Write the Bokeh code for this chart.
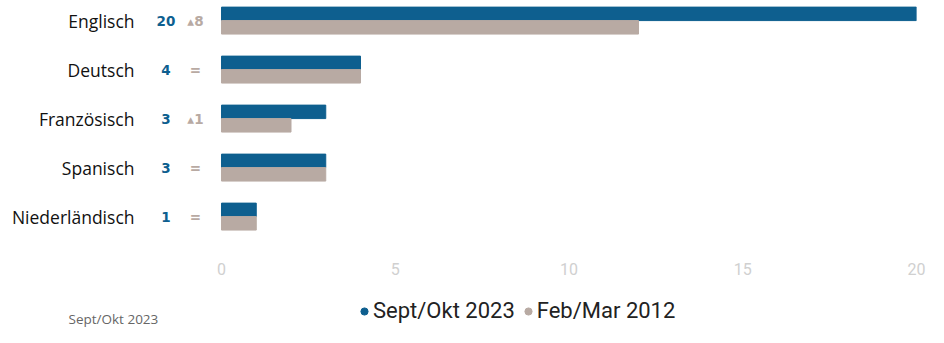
from bokeh.plotting import figure
from bokeh.layouts import column
from bokeh.models import Range1d, FixedTicker, Legend, LegendItem, Label, ColumnDataSource
from bokeh.core.properties import value
from bokeh.embed import file_html
from bokeh.resources import INLINE

languages = ["Englisch", "Deutsch", "Französisch", "Spanisch", "Niederländisch"]
sept_okt_2023 = [20, 4, 3, 3, 1]
feb_mar_2012 = [12, 4, 2, 3, 1]
series_names = ["Sept/Okt 2023", "Feb/Mar 2012"]
x_ticks = [0, 5, 10, 15, 20]

BLUE = "#0e5f8f"
GRAY = "#b8aaa3"

pos = list(range(len(languages)))
bar_h = 0.275
changes = []
for a, b in zip(sept_okt_2023, feb_mar_2012):
    d = a - b
    changes.append("▴" + str(d) if d > 0 else ("=" if d == 0 else "▾" + str(-d)))

src = ColumnDataSource(dict(
    y_blue=[q - bar_h / 2 for q in pos],
    y_gray=[q + bar_h / 2 for q in pos],
    y=pos,
    sept=sept_okt_2023,
    feb=feb_mar_2012,
    sept_txt=[str(v) for v in sept_okt_2023],
    chg=changes,
    xn=[-1.6] * len(pos),
    xc=[-0.75] * len(pos),
))

p = figure(width=928, height=278, output_backend="svg", toolbar_location=None,
           x_range=Range1d(-2.13, 20), y_range=Range1d(4.59, -0.41),
           min_border_left=147, min_border_right=12, min_border_top=0, min_border_bottom=33)
p.outline_line_color = None
p.grid.visible = False

p.hbar(y="y_blue", right="sept", left=0, height=bar_h, color=BLUE, source=src)
p.hbar(y="y_gray", right="feb", left=0, height=bar_h, color=GRAY, source=src)

p.text(x="xn", y="y", text="sept_txt", source=src, text_color=BLUE,
       text_font=value("DejaVu Sans"), text_font_size="13.5px", text_font_style="bold",
       text_align="center", text_baseline="middle")
p.text(x="xc", y="y", text="chg", source=src, text_color=GRAY,
       text_font=value("DejaVu Sans"), text_font_size="13.5px", text_font_style="bold",
       text_align="center", text_baseline="middle")

# y axis
p.yaxis.ticker = FixedTicker(ticks=pos)
p.yaxis.major_label_overrides = {i: n for i, n in enumerate(languages)}
p.yaxis.axis_line_color = None
p.yaxis.major_tick_line_color = None
p.yaxis.minor_tick_line_color = None
p.yaxis.major_label_standoff = 7
p.yaxis.major_label_text_font = "Open Sans"
p.yaxis.major_label_text_font_size = "17.5px"
p.yaxis.major_label_text_color = "#111111"

# x axis
p.xaxis.ticker = FixedTicker(ticks=x_ticks)
p.xaxis.axis_line_color = None
p.xaxis.major_tick_line_color = None
p.xaxis.minor_tick_line_color = None
p.xaxis.major_label_standoff = 11
p.xaxis.major_label_text_font = "Roboto"
p.xaxis.major_label_text_font_size = "16px"
p.xaxis.major_label_text_color = "#d0d0d0"

# legend strip
lg = figure(width=928, height=49, output_backend="svg", toolbar_location=None,
            x_range=Range1d(0, 1), y_range=Range1d(0, 1),
            min_border=0)
lg.frame_align = False
lg.outline_line_color = None
lg.grid.visible = False
lg.axis.visible = False
r1 = lg.scatter(x=[float("nan")], y=[float("nan")], marker="circle", size=8, color=BLUE)
r2 = lg.scatter(x=[float("nan")], y=[float("nan")], marker="circle", size=8, color=GRAY)
legend = Legend(items=[LegendItem(label=series_names[0], renderers=[r1]),
                       LegendItem(label=series_names[1], renderers=[r2])],
                orientation="horizontal", location=(355, 4),
                border_line_color=None, background_fill_alpha=0,
                glyph_width=18, glyph_height=20, label_standoff=0, spacing=4,
                padding=0, margin=0,
                label_text_font="Roboto", label_text_font_size="22px",
                label_text_color="#222222")
lg.add_layout(legend, "center")

note = Label(x=68, y=0, x_units="screen", y_units="screen", text=series_names[0],
             text_font="Open Sans", text_font_size="13.5px", text_color="#666666",
             text_baseline="bottom")
lg.add_layout(note)

layout = column(p, lg, spacing=0)
open("out.html", "w").write(file_html(layout, INLINE))
